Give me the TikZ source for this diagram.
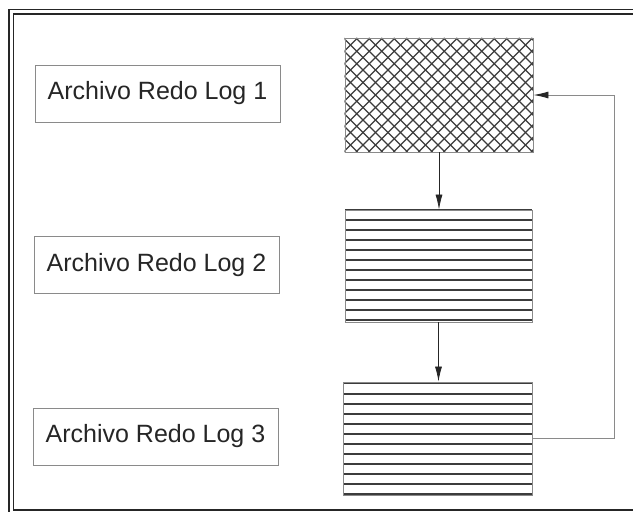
\documentclass[tikz,border=0pt]{standalone}
\usepackage{fontspec}
\setmainfont{Liberation Sans}
\usetikzlibrary{arrows.meta}
\definecolor{ink}{HTML}{262626}
\definecolor{edge}{HTML}{8A8A8A}
\tikzset{
  lbl/.style={draw=edge, line width=0.9pt, minimum width=245pt, minimum height=57pt, inner sep=0pt,
              text=ink, font=\fontsize{25}{30}\selectfont},
  blk/.style={draw=edge, line width=0.9pt, inner sep=0pt},
  hatch/.style={draw=ink!90, line width=1.2pt},
  arr/.style={draw=ink, line width=0.8pt, -{Latex[length=15pt,width=7pt]}},
  back/.style={draw=edge, line width=0.9pt, -{Latex[length=15pt,width=7pt,color=ink]}},
  frm/.style={draw=ink, line width=1.3pt}
}
\begin{document}
\begin{tikzpicture}[x=1pt,y=-1pt]
\useasboundingbox (0,0) rectangle (633,512);
\clip (0,0) rectangle (633,512);
\fill[white] (0,0) rectangle (633,512);
% frame
\draw[frm] (9,9.5) rectangle (660,530);
\draw[frm] (13.5,14) rectangle (660,510);
% label boxes
\node[lbl] (l1) at (157.5,93.5) {Archivo Redo Log 1};
\node[lbl] (l2) at (156.5,265) {Archivo Redo Log 2};
\node[lbl] (l3) at (155.5,436.5) {Archivo Redo Log 3};
% blocks
\node[blk, minimum width=188pt, minimum height=114pt] (A) at (439,95) {};
\node[blk, minimum width=187pt, minimum height=112pt] (B) at (438.5,266) {};
\node[blk, minimum width=189pt, minimum height=113pt] (C) at (437.5,438.5) {};
% crosshatch in A
\begin{scope}
\clip (A.north west) rectangle (A.south east);
\foreach \i in {0,...,25} {
  \draw[draw=ink!90, line width=1.1pt] (231+\i*12.5,38) -- ++(114,114);
  \draw[draw=ink!90, line width=1.1pt] (345+\i*12.5,38) -- ++(-114,114);
}
\end{scope}
% horizontal lines in B
\foreach \k in {0,...,11} {
  \draw[hatch] (345,210+\k*10) -- (532,210+\k*10);
}
% horizontal lines in C
\draw[hatch] (343,383) -- (532,383);
\foreach \k in {0,...,10} {
  \draw[hatch] (343,394+\k*10) -- (532,394+\k*10);
}
% redraw block borders
\node[blk, minimum width=188pt, minimum height=114pt] at (A) {};
\node[blk, minimum width=187pt, minimum height=112pt] at (B) {};
\node[blk, minimum width=189pt, minimum height=113pt] at (C) {};
% arrows
\draw[arr] (A.south) -- (A.south |- B.north);
\draw[arr] (B.south) -- (B.south |- C.north);
\coordinate (turn) at (614,0);
\draw[back] (C.east) -- (C.east -| turn) |- (A.east);
\end{tikzpicture}
\end{document}
